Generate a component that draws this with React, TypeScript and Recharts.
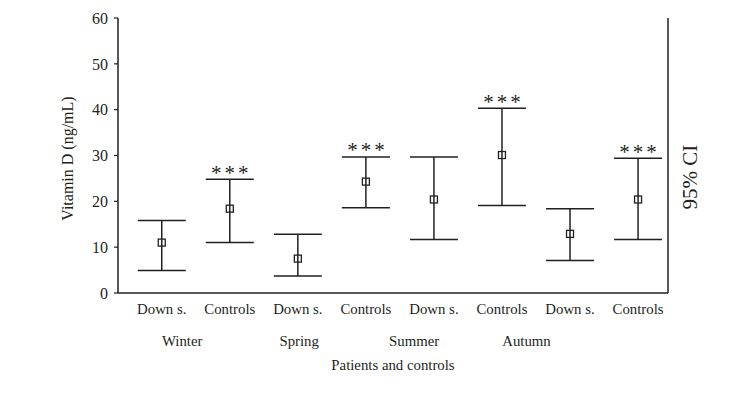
import {
  ScatterChart,
  Scatter,
  XAxis,
  YAxis,
  ErrorBar,
} from "recharts";

// values (ng/mL)
const categories = ["Down s.", "Controls", "Down s.", "Controls", "Down s.", "Controls", "Down s.", "Controls"];
const means = [11.0, 18.4, 7.5, 24.3, 20.4, 30.1, 12.9, 20.4];
const lower = [4.9, 11.0, 3.7, 18.6, 11.7, 19.1, 7.1, 11.7];
const upper = [15.8, 24.8, 12.8, 29.7, 29.7, 40.3, 18.4, 29.4];
const significant = [false, true, false, true, false, true, false, true];

const seasons = ["Winter", "Spring", "Summer", "Autumn"];
const seasonPositions = [0.3, 2.02, 3.71, 5.36];
const yTicks = [0, 10, 20, 30, 40, 50, 60];

const ink = "#231f20";
const font = "'Liberation Serif', 'DejaVu Serif', serif";
const xDomain: [number, number] = [-0.643, 7.44];

const points = categories.map((c, i) => ({
  x: i,
  y: means[i],
  err: [means[i] - lower[i], upper[i] - means[i]],
}));

const stars = categories
  .map((c, i) => ({ x: i, y: upper[i], show: significant[i] }))
  .filter((d) => d.show);

const CategoryTick = (props: any) => {
  const { x, y, payload } = props;
  return (
    <text x={x} y={y} dy={21} textAnchor="middle" fontSize={14.8} fill={ink} fontFamily={font}>
      {categories[payload.value]}
    </text>
  );
};

const SeasonTick = (props: any) => {
  const { x, y, index } = props;
  return (
    <text x={x} y={y} dy={20} textAnchor="middle" fontSize={14.8} fill={ink} fontFamily={font}>
      {seasons[index]}
    </text>
  );
};

const MeanMarker = (props: any) => {
  const { cx, cy } = props;
  return <rect x={cx - 3.5} y={cy - 3.5} width={7} height={7} fill="none" stroke={ink} strokeWidth={1.3} />;
};

const StarMarker = (props: any) => {
  const { cx, cy } = props;
  return (
    <text
      x={cx + 1.5}
      y={cy + 0.5}
      textAnchor="middle"
      fontSize={21}
      letterSpacing={3}
      fill={ink}
      stroke="none"
      fontFamily={font}
    >
      ***
    </text>
  );
};

export default function App() {
  return (
    <div style={{ position: "absolute", left: 0, top: 0, background: "#fff" }}>
      <ScatterChart
        width={740}
        height={403}
        margin={{ top: 18, right: 32, left: 0, bottom: 0 }}
        style={{ fontFamily: font }}
      >
        <XAxis
          xAxisId={0}
          dataKey="x"
          type="number"
          domain={xDomain}
          allowDataOverflow
          ticks={[0, 1, 2, 3, 4, 5, 6, 7]}
          interval={0}
          height={33}
          tickSize={0}
          tickMargin={0}
          tickLine={false}
          axisLine={{ stroke: ink, strokeWidth: 1.5 }}
          tick={<CategoryTick />}
        />
        <XAxis
          xAxisId="season"
          dataKey="x"
          type="number"
          domain={xDomain}
          allowDataOverflow
          ticks={seasonPositions}
          interval={0}
          height={77}
          tickSize={0}
          tickMargin={0}
          tickLine={false}
          axisLine={false}
          tick={<SeasonTick />}
          label={(p: any) => {
            const vb = p.viewBox || { x: 118, y: 326, width: 550 };
            return (
              <text x={vb.x + vb.width / 2} y={vb.y + 44} textAnchor="middle" fontSize={14.8} fill={ink} fontFamily={font}>
                Patients and controls
              </text>
            );
          }}
        />
        <XAxis
          xAxisId="top"
          orientation="top"
          dataKey="x"
          type="number"
          domain={xDomain}
          allowDataOverflow
          height={0}
          tick={false}
          tickLine={false}
          axisLine={{ stroke: ink, strokeWidth: 1.5 }}
        />
        <YAxis
          yAxisId={0}
          dataKey="y"
          type="number"
          domain={[0, 60]}
          ticks={yTicks}
          width={118}
          tickSize={4}
          tickMargin={6}
          tickLine={{ stroke: ink, strokeWidth: 1.2 }}
          axisLine={{ stroke: ink, strokeWidth: 1.5 }}
          tick={{ fill: ink, fontSize: 16, fontFamily: font }}
          label={(p: any) => {
            const vb = p.viewBox || { x: 0, y: 18, width: 118, height: 275 };
            const cx = vb.x + 68;
            const cy = vb.y + vb.height / 2 + 3;
            return (
              <text
                x={cx}
                y={cy}
                dy={5}
                transform={`rotate(-90 ${cx} ${cy})`}
                textAnchor="middle"
                fontSize={16}
                fill={ink}
                fontFamily={font}
              >
                Vitamin D (ng/mL)
              </text>
            );
          }}
        />
        <YAxis
          yAxisId="right"
          orientation="right"
          type="number"
          domain={[0, 60]}
          width={40}
          tick={false}
          tickLine={false}
          axisLine={{ stroke: ink, strokeWidth: 1.5 }}
          label={(p: any) => {
            const vb = p.viewBox || { x: 668, y: 18, width: 40, height: 275 };
            const cx = vb.x + 22;
            const cy = 177;
            return (
              <text
                x={cx}
                y={cy}
                dy={7}
                transform={`rotate(-90 ${cx} ${cy})`}
                textAnchor="middle"
                fontSize={21}
                fill={ink}
                fontFamily={font}
              >
                95% CI
              </text>
            );
          }}
        />
        <Scatter data={points} dataKey="y" shape={<MeanMarker />} isAnimationActive={false}>
          <ErrorBar dataKey="err" direction="y" width={24} stroke={ink} strokeWidth={1.5} />
        </Scatter>
        <Scatter data={stars} dataKey="y" shape={<StarMarker />} isAnimationActive={false} />
      </ScatterChart>
    </div>
  );
}
